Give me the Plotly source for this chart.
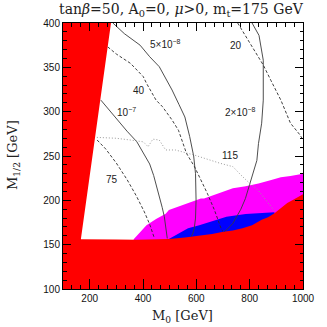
import plotly.graph_objects as go

# ---- data ----
# excluded (red) region boundary: lower-left wedge edge and bottom edge
red_wedge_x = [167, 280]
red_wedge_y = [156, 400]
red_bottom_x = [1000, 995, 965, 941, 917, 893, 869, 845, 809, 773, 737, 701, 659, 617, 557, 497, 437, 377, 300, 230, 167]
red_bottom_y = [207, 206, 201, 197, 191, 185.5, 181, 178, 172, 168.5, 166, 164.6, 162, 160, 158, 156.5, 156, 155.5, 155.8, 156, 156]

# magenta band upper boundary
mag_x = [365, 389, 413, 449, 485, 497, 533, 569, 617, 629, 677, 737, 785, 833, 881, 917, 953, 1000]
mag_y = [156, 164, 172, 179, 185, 189, 193, 196.6, 202, 202, 207, 213.6, 216, 219, 223, 226, 227.5, 230]

# blue band upper boundary
blue_x = [497, 533, 569, 611, 653, 713, 785, 857, 893]
blue_y = [156.5, 162.8, 168.4, 172, 176, 181.5, 184.6, 186, 186.5]

# solid contours (branching ratio)
br_5e8_x = [287, 330, 389, 425, 461, 509, 535, 557, 575, 590, 597, 599, 597, 592, 586, 580]
br_5e8_y = [400, 388, 375, 362, 350.7, 324.4, 308, 294, 272, 250, 230, 200, 180, 168, 162, 159]

br_1e7_x = [242, 270, 293, 305, 340, 377, 404, 425, 440, 452, 463, 472, 480, 486, 491]
br_1e7_y = [313, 303, 294, 290.6, 278, 266, 252, 241, 228, 215, 203, 192, 181.5, 170, 157]

br_2e8_x = [809, 825, 835, 851, 851, 845, 833, 827, 815, 800, 784, 767, 737, 713, 703]
br_2e8_y = [400, 392, 386, 358, 313, 287, 264, 245, 232, 218, 202, 190, 174, 166.5, 164.6]

# dashed contours
c40_x = [268, 300, 353, 401, 413, 449, 473, 509, 533, 557, 563, 593, 641, 668, 685, 695, 700]
c40_y = [373, 365, 354.5, 339.5, 332, 313, 305.6, 290.6, 279, 258.7, 253, 238, 208, 189, 175, 166.5, 165]

c75_x = [228, 260, 300, 341, 375, 405, 425, 443]
c75_y = [268, 258, 242, 223, 205, 187, 173, 157]

c20_x = [755, 800, 851, 880, 917, 953, 989, 1000]
c20_y = [400, 378, 352.6, 335, 313, 287, 273.7, 268]

# dotted contour (Higgs mass 115)
h115_x = [227, 300, 353, 401, 419, 437, 461, 485, 521, 593, 689, 737, 767, 797, 833, 869, 893]
h115_y = [271, 270, 268, 266, 260.5, 269, 268, 256.8, 256.8, 251, 241.8, 238, 228.6, 220, 211, 197, 188]

# contour labels
lab_text = ["5×10<sup>−8</sup>", "40", "10<sup>−7</sup>", "20", "2×10<sup>−8</sup>", "115", "75"]
lab_x = [484, 386, 338, 749, 764, 725, 284]
lab_y = [376, 324, 299.5, 375, 299.5, 251, 223]

x_ticks = [200, 400, 600, 800, 1000]
y_ticks = [100, 150, 200, 250, 300, 350, 400]

RED = "#ff0000"
MAG = "#ff00ff"
BLUE = "#0000ff"

fig = go.Figure()

# magenta band (lower part later covered by red)
fig.add_trace(go.Scatter(x=mag_x + [1000, 365], y=mag_y + [140, 140], fill="toself",
                         fillcolor=MAG, line=dict(width=0), mode="lines", hoverinfo="skip"))
# blue band
fig.add_trace(go.Scatter(x=blue_x + [893, 497], y=blue_y + [140, 140], fill="toself",
                         fillcolor=BLUE, line=dict(width=0), mode="lines", hoverinfo="skip"))
# red excluded region
red_x = [100, 1000] + red_bottom_x + red_wedge_x[1:] + [100]
red_y = [100, 100] + red_bottom_y + red_wedge_y[1:] + [400]
fig.add_trace(go.Scatter(x=red_x, y=red_y, fill="toself", fillcolor=RED,
                         line=dict(width=0), mode="lines", hoverinfo="skip"))

solid = dict(color="#3a3a3a", width=0.9)
dashed = dict(color="#2a2a2a", width=0.9, dash="3px,2px")
dotted = dict(color="#9a9a9a", width=1.0, dash="1px,2px")
for xs, ys, ln in [(br_5e8_x, br_5e8_y, solid), (br_1e7_x, br_1e7_y, solid),
                   (br_2e8_x, br_2e8_y, solid), (c40_x, c40_y, dashed),
                   (c75_x, c75_y, dashed), (c20_x, c20_y, dashed),
                   (h115_x, h115_y, dotted)]:
    fig.add_trace(go.Scatter(x=xs, y=ys, mode="lines", line=ln, hoverinfo="skip"))

# dummy trace for mirrored axes
fig.add_trace(go.Scatter(x=[100], y=[100], xaxis="x2", yaxis="y2", mode="markers",
                         marker=dict(size=0.1, opacity=0), hoverinfo="skip"))

for t, x, y in zip(lab_text, lab_x, lab_y):
    fig.add_annotation(x=x, y=y, text=t, showarrow=False,
                       font=dict(family="Liberation Sans", size=10, color="#222"))

tickfont = dict(family="Liberation Sans", size=10, color="#111")
common = dict(showline=True, linecolor="black", linewidth=1, ticks="inside",
              tickcolor="black", tickwidth=1, showgrid=False, zeroline=False)

fig.update_layout(
    width=327, height=327,
    margin=dict(l=63, r=14, t=23, b=38),
    paper_bgcolor="white", plot_bgcolor="white",
    showlegend=False,
    xaxis=dict(range=[100, 1000], tickvals=x_ticks, ticklen=10, tickfont=tickfont,
               minor=dict(ticks="inside", dtick=100/3, tick0=100, ticklen=4,
                          tickcolor="black", showgrid=False),
               **common),
    yaxis=dict(range=[100, 400], tickvals=y_ticks, ticklen=8, tickfont=tickfont,
               minor=dict(ticks="inside", dtick=10, tick0=100, ticklen=3.5,
                          tickcolor="black", showgrid=False),
               **common),
    xaxis2=dict(range=[100, 1000], overlaying="x", side="top", tickvals=x_ticks,
                ticklen=8, showticklabels=False,
                minor=dict(ticks="inside", dtick=100/3, tick0=100, ticklen=4,
                           tickcolor="black", showgrid=False),
                **common),
    yaxis2=dict(range=[100, 400], overlaying="y", side="right", tickvals=y_ticks,
                ticklen=8, showticklabels=False,
                minor=dict(ticks="inside", dtick=10, tick0=100, ticklen=3.5,
                           tickcolor="black", showgrid=False),
                **common),
)

titlefont = dict(family="DejaVu Serif", size=13, color="#222")
fig.add_annotation(xref="paper", yref="paper", x=0.494, y=1.049, yanchor="middle",
                   text="tan<i>β</i>=50, A<sub>0</sub>=0, <i>μ</i>>0, m<sub>t</sub>=175 GeV",
                   showarrow=False, font=dict(family="DejaVu Serif", size=14, color="#222"))
fig.add_annotation(xref="paper", yref="paper", x=0.498, y=-0.105, yanchor="middle",
                   text="M<sub>0</sub> [GeV]", showarrow=False, font=titlefont)
fig.add_annotation(xref="paper", yref="paper", x=-0.204, y=0.504, xanchor="center",
                   yanchor="middle", textangle=-90,
                   text="M<sub>1/2</sub> [GeV]", showarrow=False, font=titlefont)

fig.write_html("out.html", config={"displayModeBar": False},
               post_script="document.body.style.margin='0';document.body.style.overflow='hidden';")
